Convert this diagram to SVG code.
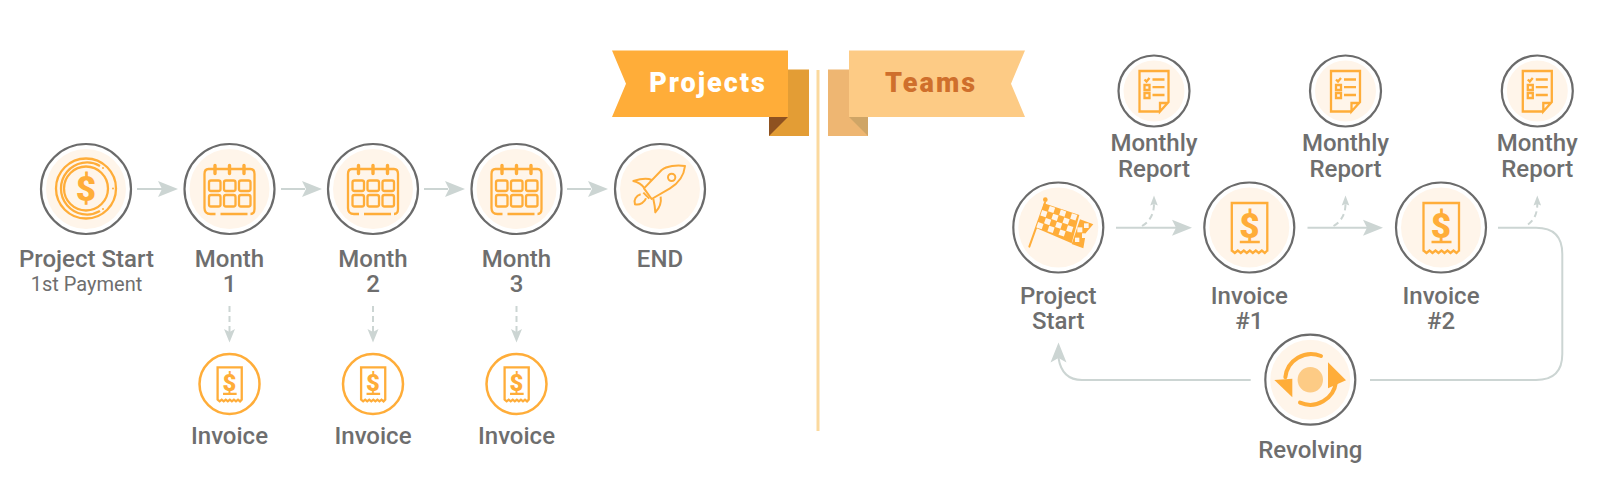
<svg xmlns="http://www.w3.org/2000/svg" width="1623" height="501" viewBox="0 0 1623 501">
<style>
text{font-family:Roboto,"Liberation Sans",sans-serif;font-weight:500;fill:#6e6e6e;text-anchor:middle}
.t{font-size:24px}
.s{font-size:20px;font-weight:400}
.b{font-size:27px;font-weight:900;letter-spacing:2px}
.ring{fill:none;stroke:#6b6b6b;stroke-width:2.2}
.disc{fill:#fff5ea}
.ic{fill:none;stroke:#ffad39;stroke-width:2.3;vector-effect:non-scaling-stroke}
.icf{fill:#ffad39}
.ln{fill:none;stroke:#ccd5d3;stroke-width:2}
.da{fill:none;stroke:#ccd5d3;stroke-width:2;stroke-dasharray:6 4}
.hd{fill:#ccd5d3}
.dollar{fill:#ffad39;font-weight:900;font-size:35px}
</style>
<defs>
<g id="badge"><circle class="disc" r="40"/><circle class="ring" r="45"/></g>
<g id="badgeS"><circle class="disc" r="30.500"/><circle class="ring" r="35.500"/></g>
<g id="cal" class="ic">
<path class="ic" d="M-14 -20H-21Q-25 -20 -25 -15V19Q-25 25 -19 25H-14M-9 25H18M21 25Q25 25 25 20V-15Q25 -20 21 -20H-14M-14 -20H14"/>
<path class="ic" style="stroke-width:3.400;stroke-linecap:round" d="M-14.500 -23.500V-15.500M0 -23.500V-15.500M14.500 -23.500V-15.500"/>
<rect class="ic" x="-20.500" y="-8.500" width="11.500" height="10.500" rx="2"/><rect class="ic" x="-5.500" y="-8.500" width="11.500" height="10.500" rx="2"/><rect class="ic" x="9.500" y="-8.500" width="11.500" height="10.500" rx="2"/>
<rect class="ic" x="-20.500" y="6" width="11.500" height="11.500" rx="2"/><rect class="ic" x="-5.500" y="6" width="11.500" height="11.500" rx="2"/><rect class="ic" x="9.500" y="6" width="11.500" height="11.500" rx="2"/>
</g>
<g id="receipt">
<path class="ic" d="M-17.500 24V-24.500H18V24M-17.500 23L-14.500 25.500L-11.500 23L-8.500 25.500L-5.500 23L-2.500 25.500L.5 23L3.500 25.500L6.500 23L9.500 25.500L12.500 23L15.500 25.500L18 23M-9.500 14.500H10.500"/>
<text class="dollar" x="0" y="10">$</text>
</g>
<g id="report">
<path class="ic" d="M6 20.500H-14.500V-20H14.500V11L6 20.500V12H14"/>
<path class="ic" d="M-9.500 -11.500L-7.500 -9.500L-4.500 -13M-1.500 -11.500H10.500M-1.500 -3.800H10.500M-1.500 4H10.500"/>
<rect class="ic" x="-9.500" y="-6" width="5" height="5"/><rect class="ic" x="-9.500" y="2" width="5" height="5"/>
</g>
<g id="arrowR"><path class="hd" d="M-20 -8L0 0L-20 8L-16 0Z"/></g>
<g id="arrowUpS"><path class="hd" d="M0 0L3.800 10L0 8.500L-3.800 10Z"/></g>
</defs>
<g id="connectors">
<path class="ln" d="M137 189H162"/><use href="#arrowR" x="178" y="189"/>
<path class="ln" d="M281 189H305"/><use href="#arrowR" x="322" y="189"/>
<path class="ln" d="M424 189H448"/><use href="#arrowR" x="465" y="189"/>
<path class="ln" d="M567 189H591"/><use href="#arrowR" x="608" y="189"/>
<path class="da" d="M229.500 306V332"/><path class="hd" d="M224 329L229.500 342.500L235 329L229.500 332Z"/>
<path class="da" d="M373 306V332"/><path class="hd" d="M367.500 329L373 342.500L378.500 329L373 332Z"/>
<path class="da" d="M516.500 306V332"/><path class="hd" d="M511 329L516.500 342.500L522 329L516.500 332Z"/>
<path class="ln" d="M1116 227.700H1176"/><use href="#arrowR" x="1192" y="227.700"/>
<path class="ln" d="M1307.500 227.700H1367"/><use href="#arrowR" x="1383" y="227.700"/>
<path class="da" d="M1142 226C1149 222 1154 215 1154 204"/><use href="#arrowUpS" x="1154" y="195.500"/>
<path class="da" d="M1333.500 226C1340.500 222 1345.500 215 1345.500 204"/><use href="#arrowUpS" x="1345.500" y="195.500"/>
<path class="da" d="M1528 224.500C1533 221 1537.300 215 1537.300 204"/><use href="#arrowUpS" x="1537.300" y="195.500"/>
<path class="ln" d="M1498 227.700H1536Q1562.300 227.700 1562.300 254V354Q1562.300 380 1536 380H1370"/>
<path class="ln" d="M1250.700 380H1082Q1062 380 1058.500 358"/>
<path class="hd" d="M1058.500 342.500L1066.500 362.500L1058.500 358L1050.500 362.500Z"/>
</g>
<g id="divider"><path d="M818 70V431" fill="none" stroke="#fbd99e" stroke-width="3"/></g>
<g id="banner-projects">
<rect x="769" y="69.500" width="40" height="66.500" fill="#e39d35"/>
<path d="M769 117H788L769 136Z" fill="#8f5220"/>
<path d="M612 50.500H788V117H612L626 83.700Z" fill="#ffad39"/>
<text class="b" x="708" y="92" style="fill:#fff">Projects</text>
</g>
<g id="banner-teams">
<rect x="828" y="69.500" width="40" height="66.500" fill="#eeb672"/>
<path d="M849 117H868V136Z" fill="#cfa566"/>
<path d="M849 50.500H1025L1011 83.700L1025 117H849Z" fill="#fdcb85"/>
<text class="b" x="931" y="92" style="fill:#cf6f2c">Teams</text>
</g>
<g id="node-project-start">
<use href="#badge" x="86" y="189"/>
<g transform="translate(86 188.500)">
<circle class="ic" r="30"/><circle class="ic" r="22"/>
<path class="ic" d="M14 -22.500A26 26 0 1 0 14 22.500"/>
<circle class="icf" cx="17" cy="-20.500" r="1"/><circle class="icf" cx="27" cy="0" r="1"/><circle class="icf" cx="17" cy="20.500" r="1"/>
<text class="dollar" x="0" y="12">$</text>
</g>
<text class="t" x="86.500" y="267">Project Start</text>
<text class="s" x="86.500" y="291">1st Payment</text>
</g>
<g id="node-month-1"><use href="#badge" x="229.500" y="189"/><use href="#cal" x="229.500" y="189"/><text class="t" x="229.500" y="267">Month</text><text class="t" x="229.500" y="292">1</text></g>
<g id="node-month-2"><use href="#badge" x="373" y="189"/><use href="#cal" x="373" y="189"/><text class="t" x="373" y="267">Month</text><text class="t" x="373" y="292">2</text></g>
<g id="node-month-3"><use href="#badge" x="516.500" y="189"/><use href="#cal" x="516.500" y="189"/><text class="t" x="516.500" y="267">Month</text><text class="t" x="516.500" y="292">3</text></g>
<g id="node-end"><use href="#badge" x="660" y="189"/>
<g transform="translate(620 155) scale(.3333)" fill="none" stroke="#ffad39" stroke-width="6" stroke-linejoin="round">
<path d="M195 33C170 29 140 33 125 45L72 100L95 132L150 100C175 85 192 60 195 33Z"/>
<circle cx="155" cy="67" r="11"/>
<path d="M95 75C80 68 60 72 40 78C55 82 65 88 72 98"/>
<path d="M122 125C125 145 118 160 106 172C105 155 103 145 100 132"/>
<path d="M70 113L88 131M62 118C48 122 40 135 45 148C60 152 75 140 78 130"/>
</g>
<text class="t" x="660" y="267">END</text></g>
<g id="node-invoice-1"><circle class="ic" style="stroke-width:2.500" cx="229.500" cy="384" r="30"/><use href="#receipt" transform="translate(229.500 384) scale(.68)"/><text class="t" x="229.500" y="444">Invoice</text></g>
<g id="node-invoice-2"><circle class="ic" style="stroke-width:2.500" cx="373" cy="384" r="30"/><use href="#receipt" transform="translate(373 384) scale(.68)"/><text class="t" x="373" y="444">Invoice</text></g>
<g id="node-invoice-3"><circle class="ic" style="stroke-width:2.500" cx="516.500" cy="384" r="30"/><use href="#receipt" transform="translate(516.500 384) scale(.68)"/><text class="t" x="516.500" y="444">Invoice</text></g>
<g id="node-team-start"><use href="#badge" x="1058.300" y="227.500"/>
<g transform="translate(1020 190) scale(.3333)">
<path d="M28 170L75 38" fill="none" stroke="#ffad39" stroke-width="6" stroke-linecap="round"/>
<circle class="icf" cx="76" cy="29" r="7"/>
<path class="icf" d="M72 40L178 75L155 160L50 115Z"/>
<path class="icf" d="M180 88L220 103L198 128L190 175L155 162Z"/>
<g transform="translate(72 40) rotate(18.300)" fill="#fff5ea">
<rect x="19" y="2" width="17" height="17"/><rect x="54" y="2" width="17" height="17"/><rect x="89" y="2" width="17" height="17"/>
<rect x="1" y="21" width="17" height="17"/><rect x="36" y="21" width="17" height="17"/><rect x="71" y="21" width="17" height="17"/>
<rect x="19" y="40" width="17" height="17"/><rect x="54" y="40" width="17" height="17"/><rect x="89" y="40" width="17" height="17"/>
<rect x="1" y="59" width="17" height="17"/><rect x="36" y="59" width="17" height="17"/><rect x="71" y="59" width="17" height="17"/>
</g>
<g fill="#fff5ea"><rect x="192" y="100" width="14" height="14"/><rect x="172" y="112" width="15" height="15"/><rect x="186" y="130" width="12" height="14"/><rect x="165" y="143" width="13" height="13"/></g>
</g>
<text class="t" x="1058.300" y="303.500">Project</text><text class="t" x="1058.300" y="329">Start</text></g>
<g id="node-invoice-a"><use href="#badge" x="1249.300" y="227.500"/><use href="#receipt" x="1249.300" y="227.500"/><text class="t" x="1249.300" y="303.500">Invoice</text><text class="t" x="1249.300" y="329">#1</text></g>
<g id="node-invoice-b"><use href="#badge" x="1441" y="227.500"/><use href="#receipt" x="1441" y="227.500"/><text class="t" x="1441" y="303.500">Invoice</text><text class="t" x="1441" y="329">#2</text></g>
<g id="node-report-1"><use href="#badgeS" x="1154" y="91"/><use href="#report" x="1154" y="91"/><text class="t" x="1154" y="151">Monthly</text><text class="t" x="1154" y="177">Report</text></g>
<g id="node-report-2"><use href="#badgeS" x="1345.500" y="91"/><use href="#report" x="1345.500" y="91"/><text class="t" x="1345.500" y="151">Monthly</text><text class="t" x="1345.500" y="177">Report</text></g>
<g id="node-report-3"><use href="#badgeS" x="1537.300" y="91"/><use href="#report" x="1537.300" y="91"/><text class="t" x="1537.300" y="151">Monthy</text><text class="t" x="1537.300" y="177">Report</text></g>
<g id="node-revolving"><use href="#badge" x="1310.300" y="379.700"/>
<circle cx="1310.300" cy="379.700" r="12.700" fill="#fdcb85"/>
<g transform="translate(1240 320) scale(.3333)">
<path d="M243 108A78 78 0 0 0 136 172" fill="none" stroke="#ffad39" stroke-width="12" stroke-linecap="round"/>
<path d="M180 248A78 78 0 0 0 288 186" fill="none" stroke="#ffad39" stroke-width="12" stroke-linecap="round"/>
<path class="icf" d="M103 180L157 176V232Z"/><path class="icf" d="M264 127L318 181L264 205Z"/>
</g>
<text class="t" x="1310.300" y="458">Revolving</text></g>
</svg>
